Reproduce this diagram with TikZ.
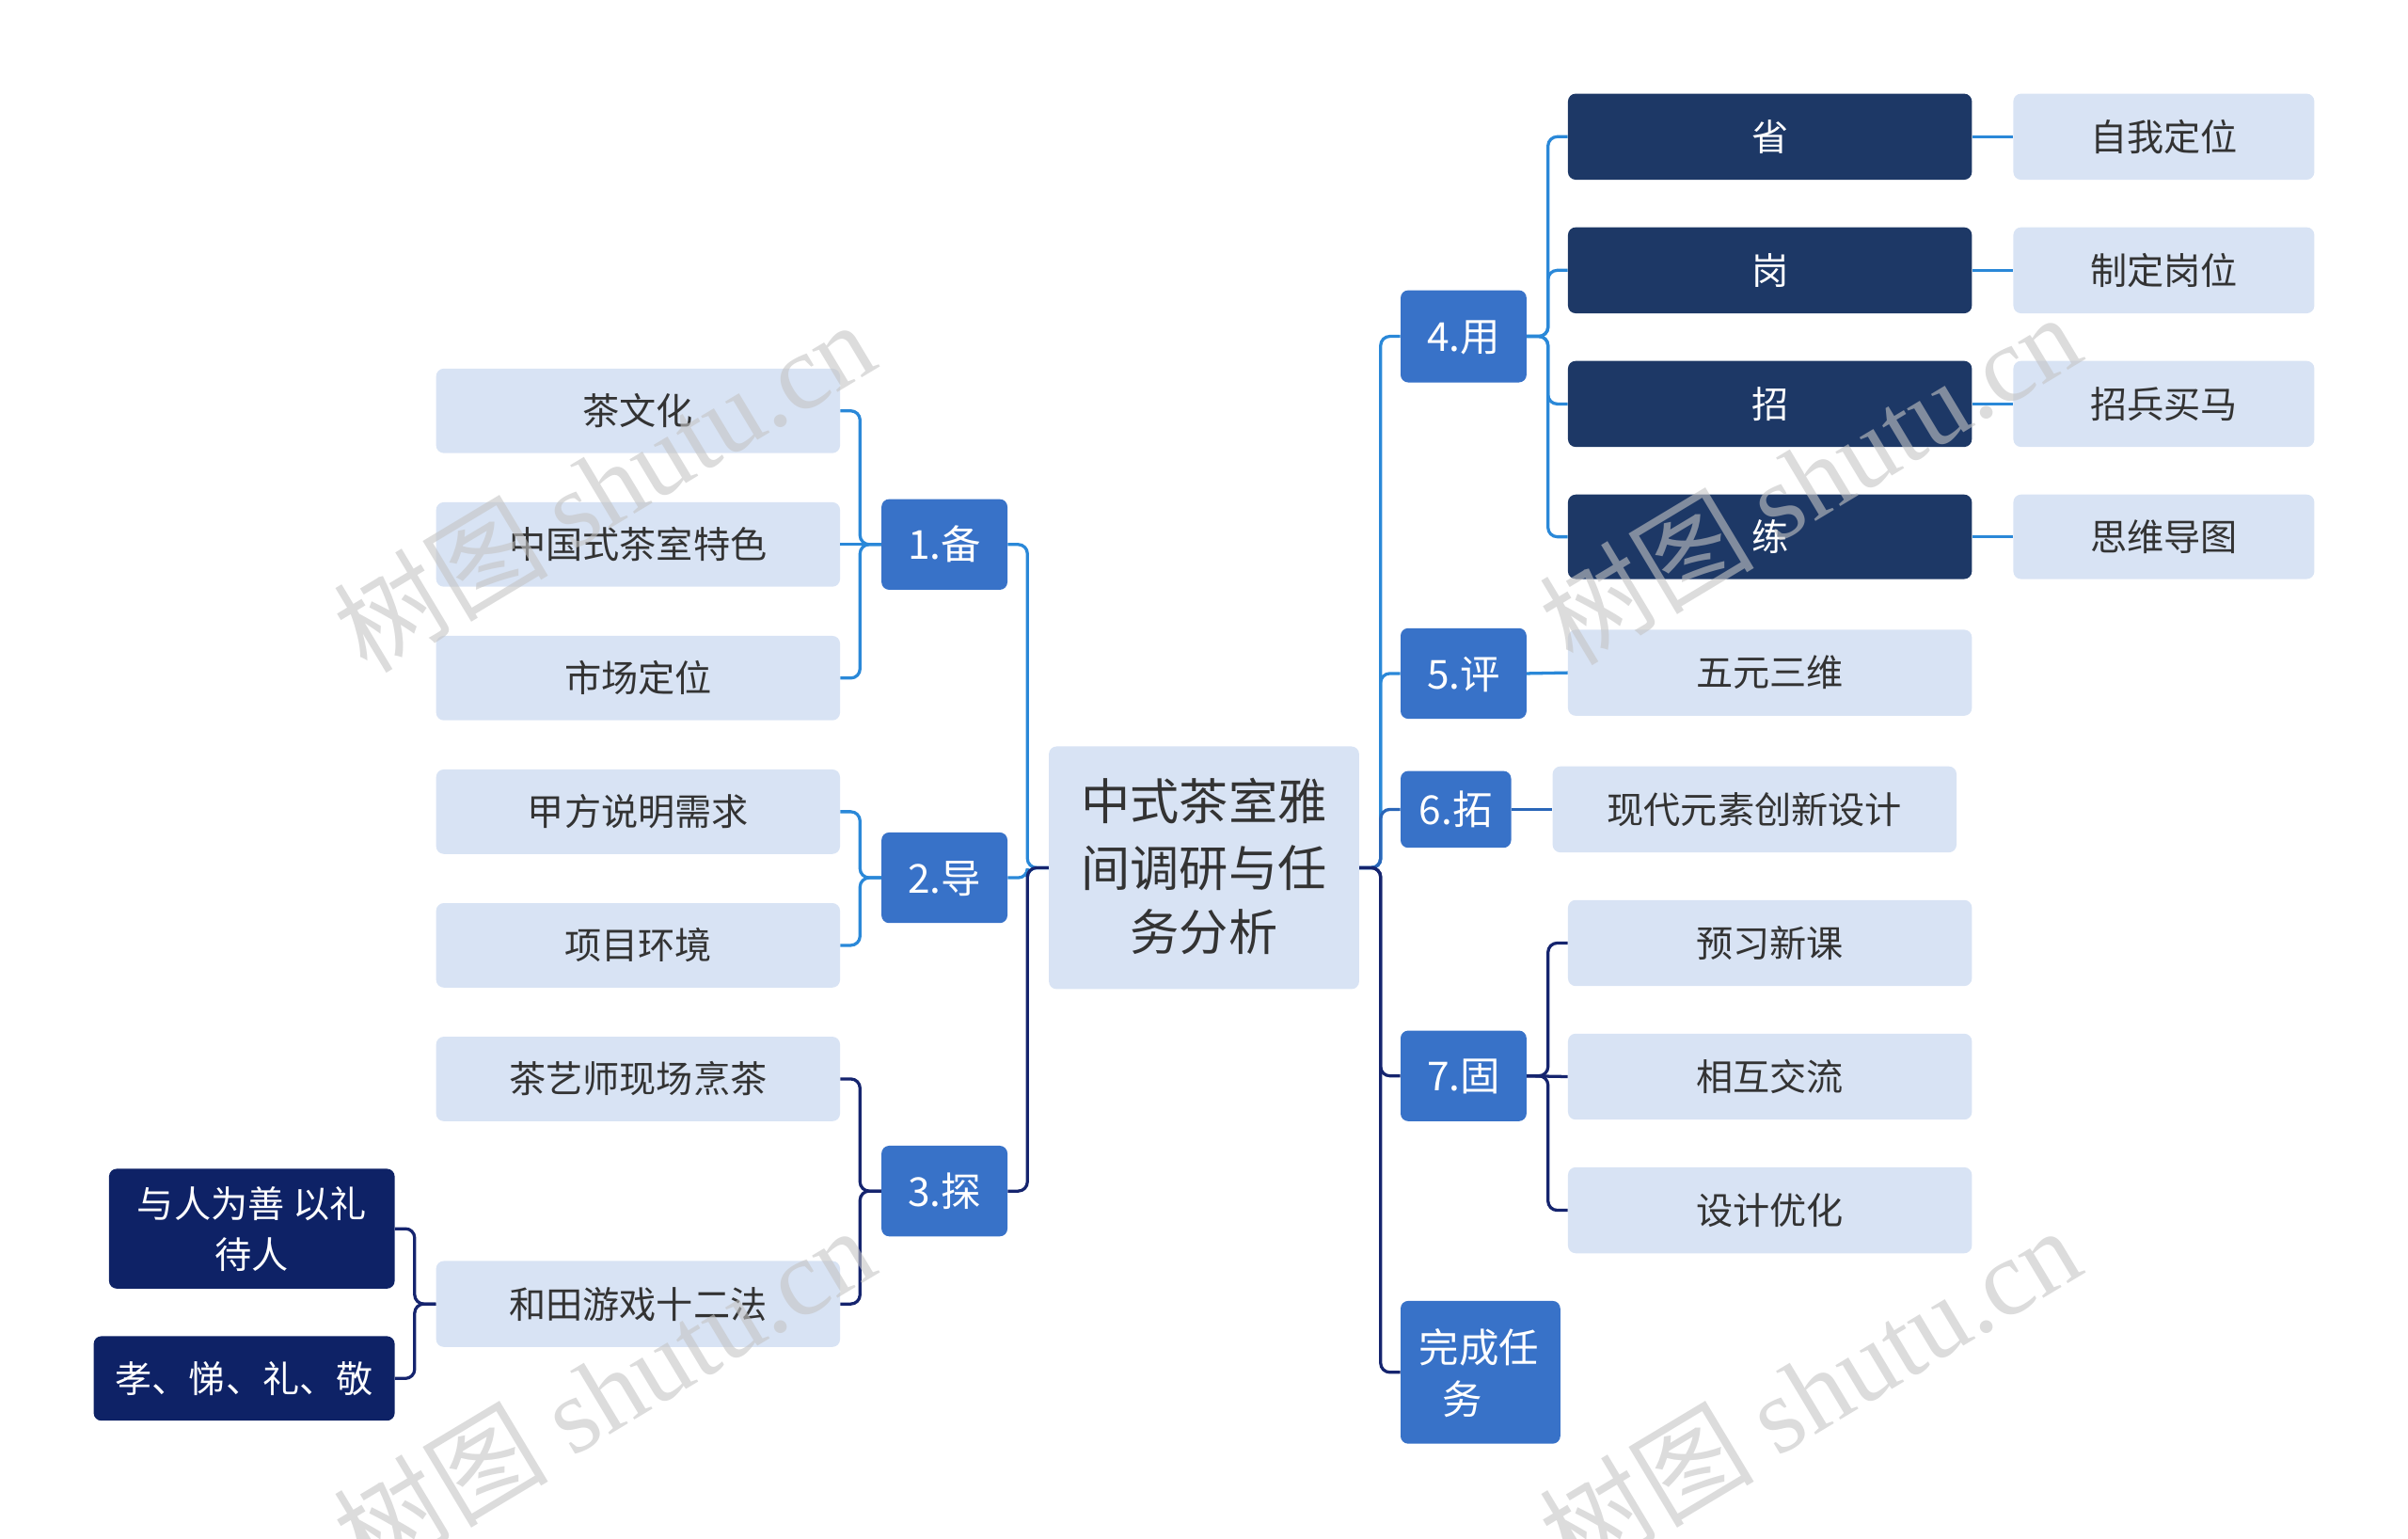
\documentclass[tikz,border=0pt]{standalone}
\usepackage{fontspec}
\setmainfont{Noto Sans CJK SC}
\newfontfamily\wmlatin{Liberation Serif}
\usetikzlibrary{fit}
\definecolor{lightbox}{HTML}{D8E3F4}
\definecolor{lvlblue}{HTML}{3872C8}
\definecolor{navyR}{HTML}{1D3866}
\definecolor{navyL}{HTML}{0E2266}
\definecolor{txt}{HTML}{333333}
\definecolor{lineblue}{HTML}{2A88D8}
\definecolor{linemid}{HTML}{2A66B8}
\definecolor{linenavy}{HTML}{15246E}
\definecolor{wm}{HTML}{C4C4C4}
\newcommand{\fsz}[2]{\fontsize{#1pt}{#2pt}\selectfont}
\tikzset{
  basebox/.style={rounded corners=5pt, inner sep=0pt},
  lightnode/.style={basebox, fill=lightbox},
  levelnode/.style={basebox, fill=lvlblue},
  darkright/.style={basebox, fill=navyR},
  darkleft/.style={basebox, fill=navyL},
  centernode/.style={basebox, fill=lightbox},
  tx/.style={anchor=base, inner sep=0pt},
  dark24/.style={tx, text=txt, font=\fsz{24}{33}},
  white24/.style={tx, text=white, font=\fsz{24}{33}},
  white26/.style={tx, text=white, font=\fsz{26}{34}},
  dark32/.style={tx, text=txt, font=\fsz{32}{42}},
  conn/.style={line width=2pt, rounded corners=6pt},
  bl/.style={conn, draw=lineblue},
  bm/.style={conn, draw=linemid},
  nv/.style={conn, draw=linenavy},
  watermark/.style={text=wm, opacity=0.6, rotate=31, font=\fsz{70}{74}}
}
% box name, style, text style, text
\newcommand{\lbl}[3]{\node[#2, yshift=-9.1pt] (#1-t) at (#1.center) {#3};}
\newcommand{\lblb}[3]{\node[#2, yshift=-9.9pt] (#1-t) at (#1.center) {#3};}
\begin{document}
\begin{tikzpicture}[x=1pt, y=-1pt]
\useasboundingbox (0,0) rectangle (1568,1002);
% trunk coordinates
\coordinate (L0) at (669,0);
\coordinate (L1) at (560,0);
\coordinate (L2) at (270,0);
\coordinate (R0) at (899,0);
\coordinate (R1) at (1008,0);

% center
\node[centernode, fit={(683,486) (885,644)}] (c) {};
\node[dark32, yshift=31pt] (c-t1) at (c.center) {中式茶室雅};
\node[dark32, yshift=-12pt] (c-t2) at (c.center) {间调研与任};
\node[dark32, yshift=-54pt] (c-t3) at (c.center) {务分析};

% left level 1
\node[levelnode, fit={(574,325) (656,384)}] (n1) {};
\node[levelnode, fit={(574,542) (656,601)}] (n2) {};
\node[levelnode, fit={(574,746) (656,805)}] (n3) {};
\lblb{n1}{white26}{1.备}
\lblb{n2}{white26}{2.导}
\lblb{n3}{white26}{3.探}

% left level 2
\node[lightnode, fit={(284,240) (547,295)}] (a1) {};
\node[lightnode, fit={(284,327) (547,382)}] (a2) {};
\node[lightnode, fit={(284,414) (547,469)}] (a3) {};
\node[lightnode, fit={(284,501) (547,556)}] (b1) {};
\node[lightnode, fit={(284,588) (547,643)}] (b2) {};
\node[lightnode, fit={(284,675) (547,730)}] (c1) {};
\node[lightnode, fit={(284,821) (547,877)}] (c2) {};
\lbl{a1}{dark24}{茶文化}
\lbl{a2}{dark24}{中国式茶室特色}
\lbl{a3}{dark24}{市场定位}
\lbl{b1}{dark24}{甲方说明需求}
\lbl{b2}{dark24}{项目环境}
\lbl{c1}{dark24}{茶艺师现场烹茶}
\lbl{c2}{dark24}{和田游戏十二法}

% left level 3
\node[darkleft, fit={(71,761) (257,839)}] (d1) {};
\node[white24, yshift=7pt] (d1-t1) at (d1.center) {与人为善 以礼};
\node[white24, yshift=-26pt] (d1-t2) at (d1.center) {待人};
\node[darkleft, fit={(61,870) (257,925)}] (d2) {};
\lbl{d2}{white24}{孝、悌、礼、敬}

% right level 1
\node[levelnode, fit={(912,189) (994,249)}] (n4) {};
\node[levelnode, fit={(912,409) (994,468)}] (n5) {};
\node[levelnode, fit={(912,502) (984,552)}] (n6) {};
\node[levelnode, fit={(912,671) (994,730)}] (n7) {};
\node[levelnode, fit={(912,847) (1016,940)}] (n8) {};
\lblb{n4}{white26}{4.用}
\lblb{n5}{white26}{5.评}
\lblb{n6}{white26}{6.拓}
\lblb{n7}{white26}{7.固}
\node[white26, yshift=6.5pt, xshift=-1pt] (n8-t1) at (n8.center) {完成任};
\node[white26, yshift=-27.5pt, xshift=-12pt] (n8-t2) at (n8.center) {务};

% right level 2
\node[darkright, fit={(1021,61) (1284,117)}] (e1) {};
\node[darkright, fit={(1021,148) (1284,204)}] (e2) {};
\node[darkright, fit={(1021,235) (1284,291)}] (e3) {};
\node[darkright, fit={(1021,322) (1284,377)}] (e4) {};
\lbl{e1}{white24}{省}
\lbl{e2}{white24}{岗}
\lbl{e3}{white24}{招}
\lbl{e4}{white24}{练}
\node[lightnode, fit={(1021,410) (1284,466)}] (g1) {};
\node[lightnode, fit={(1011,499) (1274,555)}] (h1) {};
\node[lightnode, fit={(1021,586) (1284,642)}] (k1) {};
\node[lightnode, fit={(1021,673) (1284,729)}] (k2) {};
\node[lightnode, fit={(1021,760) (1284,816)}] (k3) {};
\lbl{g1}{dark24}{五元三维}
\lbl{h1}{dark24}{现代元素创新设计}
\lbl{k1}{dark24}{预习新课}
\lbl{k2}{dark24}{相互交流}
\lbl{k3}{dark24}{设计优化}

% right level 3
\node[lightnode, fit={(1311,61) (1507,117)}] (f1) {};
\node[lightnode, fit={(1311,148) (1507,204)}] (f2) {};
\node[lightnode, fit={(1311,235) (1507,291)}] (f3) {};
\node[lightnode, fit={(1311,322) (1507,377)}] (f4) {};
\lbl{f1}{dark24}{自我定位}
\lbl{f2}{dark24}{制定岗位}
\lbl{f3}{dark24}{招兵买马}
\lbl{f4}{dark24}{思维导图}

% connectors: center -> left
\draw[bl] (c.west) -- (c.west -| L0) |- (n1.east);
\draw[bl] (c.west) -- (c.west -| L0) |- (n2.east);
\draw[nv] (c.west) -- (c.west -| L0) |- (n3.east);
% 1.备
\draw[bl] (n1.west) -- (n1.west -| L1) |- (a1.east);
\draw[bl] (n1.west) -- (a2.east);
\draw[bl] (n1.west) -- (n1.west -| L1) |- (a3.east);
% 2.导
\draw[bl] (n2.west) -- (n2.west -| L1) |- (b1.east);
\draw[bl] (n2.west) -- (n2.west -| L1) |- (b2.east);
% 3.探
\draw[nv] (n3.west) -- (n3.west -| L1) |- (c1.east);
\draw[nv] (n3.west) -- (n3.west -| L1) |- (c2.east);
% 和田
\draw[nv] (c2.west) -- (c2.west -| L2) |- (d1.east);
\draw[nv] (c2.west) -- (c2.west -| L2) |- (d2.east);

% center -> right
\draw[bl] (c.east) -- (c.east -| R0) |- (n4.west);
\draw[bl] (c.east) -- (c.east -| R0) |- (n5.west);
\draw[bm] (c.east) -- (c.east -| R0) |- (n6.west);
\draw[nv] (c.east) -- (c.east -| R0) |- (n7.west);
\draw[nv] (c.east) -- (c.east -| R0) |- (n8.west);
% 4.用
\draw[bl] (n4.east) -- (n4.east -| R1) |- (e1.west);
\draw[bl] (n4.east) -- (n4.east -| R1) |- (e2.west);
\draw[bl] (n4.east) -- (n4.east -| R1) |- (e3.west);
\draw[bl] (n4.east) -- (n4.east -| R1) |- (e4.west);
\draw[bl] (e1.east) -- (f1.west);
\draw[bl] (e2.east) -- (f2.west);
\draw[bl] (e3.east) -- (f3.west);
\draw[bl] (e4.east) -- (f4.west);
% 5.评, 6.拓
\draw[bl] (n5.east) -- (g1.west);
\draw[bm] (n6.east) -- (h1.west);
% 7.固
\draw[nv] (n7.east) -- (n7.east -| R1) |- (k1.west);
\draw[nv] (n7.east) -- (k2.west);
\draw[nv] (n7.east) -- (n7.east -| R1) |- (k3.west);

% watermarks
\node[watermark] (w1) at (393,316) {树图 {\wmlatin shutu.cn}};
\node[watermark] (w2) at (1178,311) {树图 {\wmlatin shutu.cn}};
\node[watermark] (w3) at (393,906) {树图 {\wmlatin shutu.cn}};
\node[watermark] (w4) at (1178,906) {树图 {\wmlatin shutu.cn}};
\end{tikzpicture}
\end{document}
